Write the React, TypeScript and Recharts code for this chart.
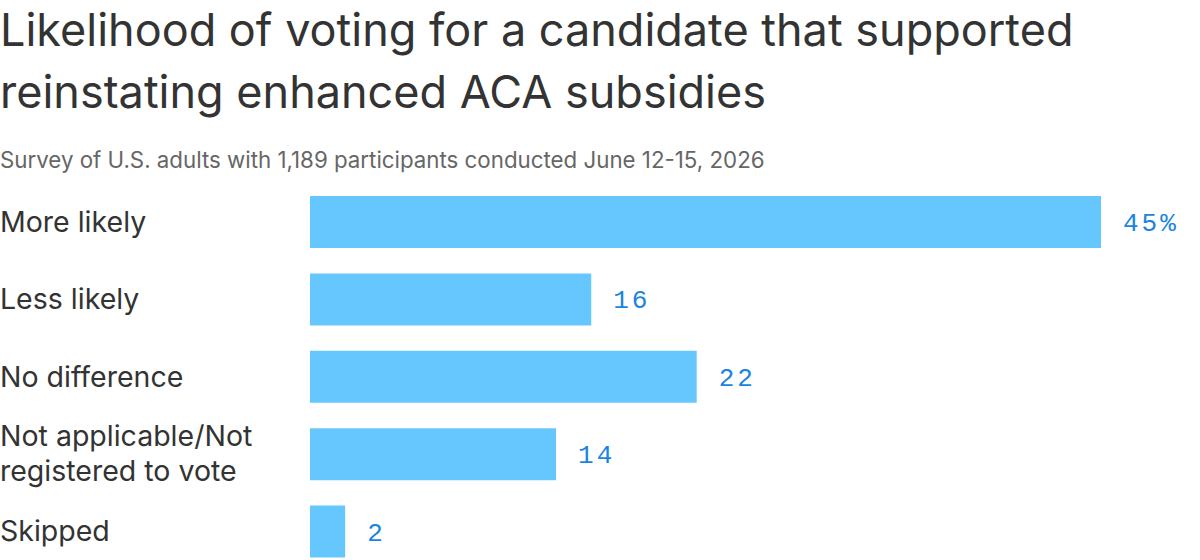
import React from 'react';
import { BarChart, Bar, XAxis, YAxis, LabelList } from 'recharts';

// Survey answers and share of respondents (%)
const categories = [
  'More likely',
  'Less likely',
  'No difference',
  'Not applicable/Not registered to vote',
  'Skipped',
];
const shares = [45, 16, 22, 14, 2];

// label lines for the y axis (long answer wraps onto two lines)
const tickLines: Record<string, string[]> = {
  'Not applicable/Not registered to vote': ['Not applicable/Not', 'registered to vote'],
};

const data = categories.map((name, i) => ({ name, value: shares[i] }));

const TEXT = '#333333';
const BAR = '#66c7ff';
const VALUE = '#1a84e0';

const CategoryTick = (props: any) => {
  const { y, payload } = props;
  const lines = tickLines[payload.value] || [payload.value];
  const lh = 35;
  const start = -((lines.length - 1) * lh) / 2;
  return (
    <text x={0} y={y} fill={TEXT} fontSize={28.5} fontFamily="Inter, sans-serif" textAnchor="start">
      {lines.map((l, i) => (
        <tspan key={i} x={0} dy={i === 0 ? start + 10 : lh}>
          {l}
        </tspan>
      ))}
    </text>
  );
};

const ValueLabel = (props: any) => {
  const { x, y, width, height, value, index } = props;
  const text = index === 0 ? `${value}%` : `${value}`;
  return (
    <text
      x={x + width + 22}
      y={y + height / 2 + 9}
      fill={VALUE}
      fontSize={26}
      fontFamily="'Liberation Mono', 'DejaVu Sans Mono', monospace"
      letterSpacing={3}
    >
      {text}
    </text>
  );
};

export default function App() {
  return (
    <div
      style={{
        position: 'absolute',
        top: 0,
        left: 0,
        width: 1200,
        height: 560,
        overflow: 'hidden',
        background: '#fff',
        fontFamily: 'Inter, sans-serif',
      }}
    >
      <div style={{ fontSize: 45, lineHeight: '62px', color: TEXT, marginTop: -1, whiteSpace: 'nowrap' }}>
        Likelihood of voting for a candidate that supported
        <br />
        reinstating enhanced ACA subsidies
      </div>
      <div style={{ position: 'absolute', top: 146, left: 0, fontSize: 22.3, color: '#666666', whiteSpace: 'nowrap' }}>
        Survey of U.S. adults with 1,189 participants conducted June 12-15, 2026
      </div>
      <div style={{ position: 'absolute', top: 183, left: 0 }}>
        <BarChart
          width={1200}
          height={387}
          data={data}
          layout="vertical"
          margin={{ top: 0, right: 99, bottom: 0, left: 0 }}
          barSize={52}
        >
          <XAxis type="number" domain={[0, 45]} hide />
          <YAxis
            type="category"
            dataKey="name"
            width={310}
            axisLine={false}
            tickLine={false}
            tick={<CategoryTick />}
            interval={0}
          />
          <Bar dataKey="value" fill={BAR} isAnimationActive={false}>
            <LabelList dataKey="value" content={<ValueLabel />} />
          </Bar>
        </BarChart>
      </div>
    </div>
  );
}
